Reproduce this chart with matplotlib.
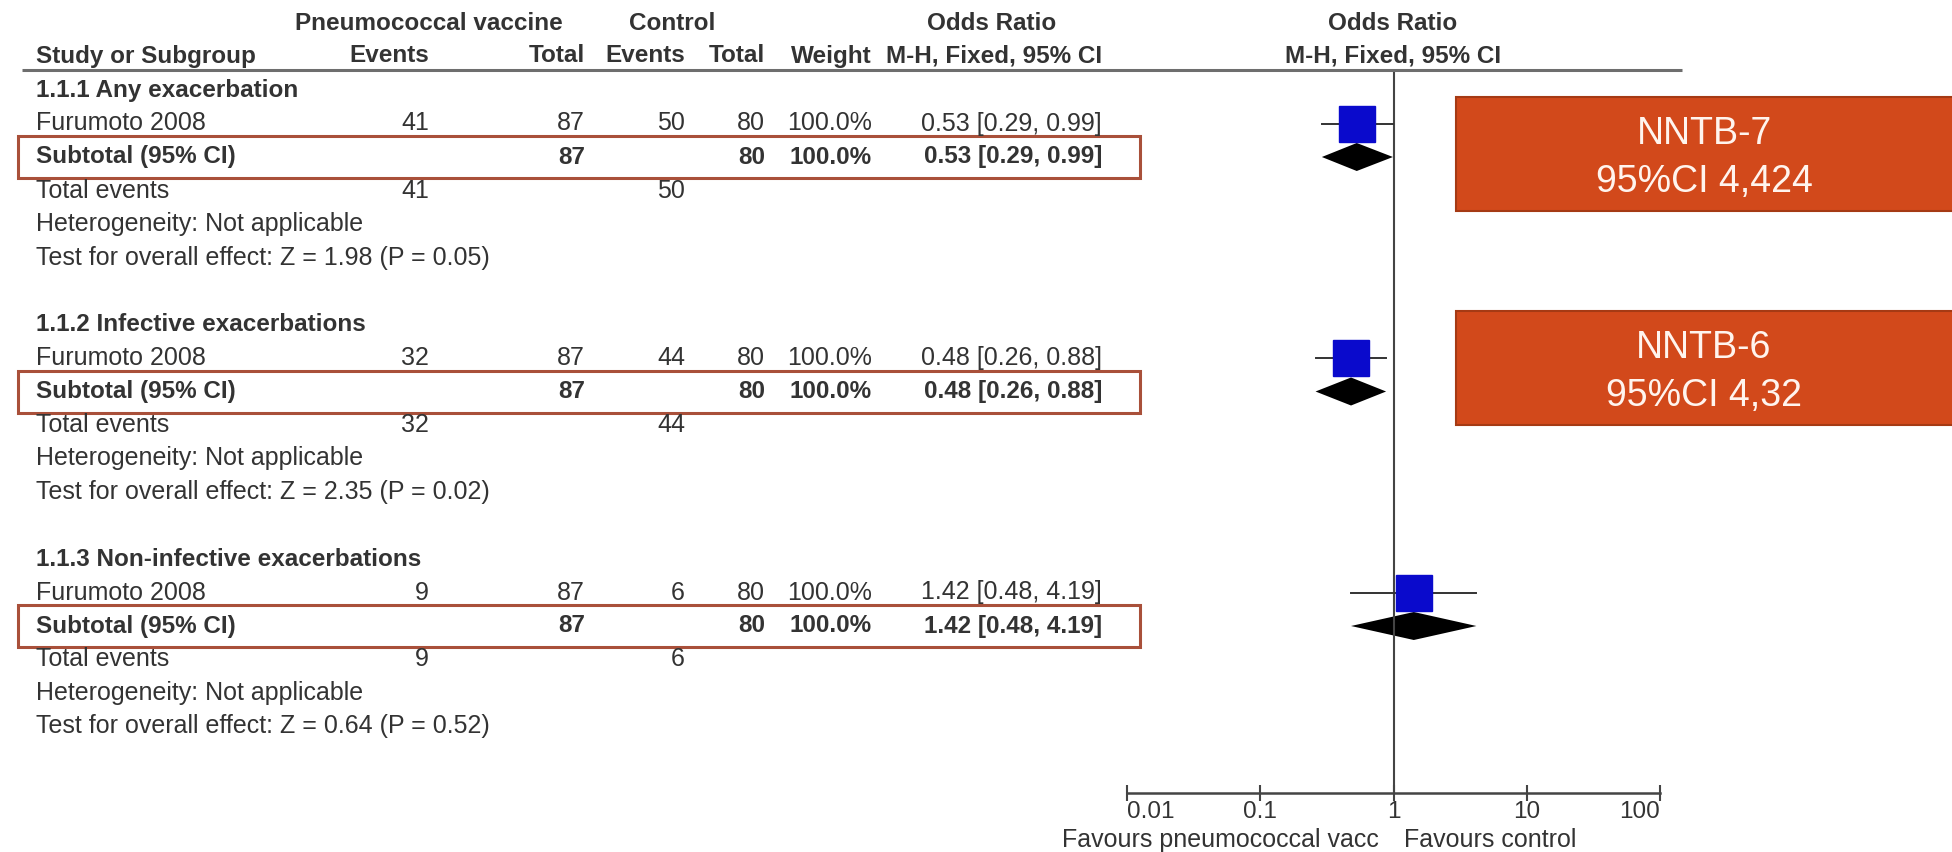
import matplotlib
matplotlib.use("Agg")
import matplotlib.pyplot as plt
from matplotlib.patches import Rectangle

plt.rcParams['font.family'] = ['Liberation Sans', 'DejaVu Sans']

# ---- data ----
subgroups = ['1.1.1 Any exacerbation', '1.1.2 Infective exacerbations',
             '1.1.3 Non-infective exacerbations']
study_name = 'Furumoto 2008'
vac_events = [41, 32, 9]
vac_total = [87, 87, 87]
ctl_events = [50, 44, 6]
ctl_total = [80, 80, 80]
weights = ['100.0%', '100.0%', '100.0%']
or_est = [0.53, 0.48, 1.42]
or_lo = [0.29, 0.26, 0.48]
or_hi = [0.99, 0.88, 4.19]
z_vals = [1.98, 2.35, 0.64]
p_vals = [0.05, 0.02, 0.52]
nntb_text = ['NNTB-7\n95%CI 4,424', 'NNTB-6\n95%CI 4,32']
tick_vals = [0.01, 0.1, 1, 10, 100]
tick_text = ['0.01', '0.1', '1', '10', '100']

# layout (pixels, origin top-left)
W, H = 1952, 852
ROW0, STEP = 90, 33.5
TXT = '#333333'
FS = 18      # regular text
FB = 17.5    # bold text
col_x = {'vev': 429, 'vtot': 585, 'cev': 685, 'ctot': 765, 'wt': 872, 'ci': 1102}

fig = plt.figure(figsize=(W / 100, H / 100), dpi=100)
ax = fig.add_axes([0, 0, 1, 1])
ax.set_xlim(0, W)
ax.set_ylim(H, 0)
ax.axis('off')
ax.set_zorder(2)
ax.patch.set_visible(False)

# forest axes: x=0.01 at px 1127, x=100 at px 1660, axis line at y=793
fx0, fx1, fy = 1127, 1660, 793
fax = fig.add_axes([fx0 / W, (H - fy) / H, (fx1 - fx0) / W, fy / H])
fax.set_zorder(1)
fax.patch.set_visible(False)
fax.set_xscale('log')
fax.set_xlim(0.01, 100)
fax.set_ylim(fy, 0)
for s in ['left', 'right', 'top']:
    fax.spines[s].set_visible(False)
fax.spines['bottom'].set_color('#444444')
fax.spines['bottom'].set_linewidth(1.8)
fax.set_yticks([])
fax.set_xticks(tick_vals)
fax.set_xticklabels(tick_text, fontsize=17.5, color=TXT)
fax.minorticks_off()
fax.tick_params(axis='x', direction='inout', length=11, width=1.5, color='#444444', pad=0)
labels = fax.get_xticklabels()
labels[0].set_ha('left')
labels[-1].set_ha('right')

# headers
ax.text(429, 23, 'Pneumococcal vaccine', ha='center', va='center', fontsize=FB, fontweight='bold', color=TXT)
ax.text(672, 23, 'Control', ha='center', va='center', fontsize=FB, fontweight='bold', color=TXT)
ax.text(992, 23, 'Odds Ratio', ha='center', va='center', fontsize=FB, fontweight='bold', color=TXT)
ax.text(1393, 23, 'Odds Ratio', ha='center', va='center', fontsize=FB, fontweight='bold', color=TXT)
hy = 56
ax.text(36, hy, 'Study or Subgroup', ha='left', va='center', fontsize=FB, fontweight='bold', color=TXT)
for key, lab in [('vev', 'Events'), ('vtot', 'Total'), ('cev', 'Events'),
                 ('ctot', 'Total'), ('wt', 'Weight'), ('ci', 'M-H, Fixed, 95% CI')]:
    ax.text(col_x[key], hy, lab, ha='right', va='center', fontsize=FB, fontweight='bold', color=TXT)
ax.text(1393, hy, 'M-H, Fixed, 95% CI', ha='center', va='center', fontsize=FB, fontweight='bold', color=TXT)
ax.plot([22, 1682], [70, 70], color='#6e6e6e', lw=2.2, solid_capstyle='butt')

# line of no effect
fax.vlines(1, 71, fy, color='#444444', lw=1.5)

for g in range(3):
    y = [ROW0 + STEP * (7 * g + k) for k in range(6)]
    ci_str = f'{or_est[g]:.2f} [{or_lo[g]:.2f}, {or_hi[g]:.2f}]'
    ax.text(36, y[0], subgroups[g], ha='left', va='center', fontsize=FB, fontweight='bold', color=TXT)
    # study row
    ax.text(36, y[1], study_name, ha='left', va='center', fontsize=FS, color=TXT)
    for key, v in [('vev', vac_events[g]), ('vtot', vac_total[g]), ('cev', ctl_events[g]),
                   ('ctot', ctl_total[g]), ('wt', weights[g]), ('ci', ci_str)]:
        ax.text(col_x[key], y[1], str(v), ha='right', va='center', fontsize=FS, color=TXT)
    # subtotal row
    ax.text(36, y[2], 'Subtotal (95% CI)', ha='left', va='center', fontsize=FB, fontweight='bold', color=TXT)
    for key, v in [('vtot', vac_total[g]), ('ctot', ctl_total[g]), ('wt', weights[g]), ('ci', ci_str)]:
        ax.text(col_x[key], y[2], str(v), ha='right', va='center', fontsize=FB, fontweight='bold', color=TXT)
    ax.text(36, y[3], 'Total events', ha='left', va='center', fontsize=FS, color=TXT)
    ax.text(col_x['vev'], y[3], str(vac_events[g]), ha='right', va='center', fontsize=FS, color=TXT)
    ax.text(col_x['cev'], y[3], str(ctl_events[g]), ha='right', va='center', fontsize=FS, color=TXT)
    ax.text(36, y[4], 'Heterogeneity: Not applicable', ha='left', va='center', fontsize=FS, color=TXT)
    ax.text(36, y[5], f'Test for overall effect: Z = {z_vals[g]:.2f} (P = {p_vals[g]:.2f})',
            ha='left', va='center', fontsize=FS, color=TXT)

    # highlight box around subtotal row
    ax.add_patch(Rectangle((18, y[2] - 21), 1122, 42, fill=False, edgecolor='#a9503a', lw=2.2))

    # forest marks
    fax.plot([or_lo[g], or_hi[g]], [y[1], y[1]], color='#333333', lw=1.4)
    fax.plot([or_est[g]], [y[1]], marker='s', ms=26.5, color='#0a0acc', mec='#0a0acc', ls='none')
    dy = 14
    fax.fill([or_lo[g], or_est[g], or_hi[g], or_est[g]],
             [y[2], y[2] - dy, y[2], y[2] + dy], color='black', lw=0)

# NNTB boxes
for i, txt in enumerate(nntb_text):
    top = [97, 311][i]
    ax.add_patch(Rectangle((1456, top), 500, 114, facecolor='#d2491b', edgecolor='#a53a14', lw=1.5))
    ax.text(1704, top + 61, txt, ha='center', va='center', fontsize=27, color='#fff4ee',
            linespacing=1.4)

ax.text(1379, 840, 'Favours pneumococcal vacc', ha='right', va='center', fontsize=FS, color=TXT)
ax.text(1404, 840, 'Favours control', ha='left', va='center', fontsize=FS, color=TXT)

fig.savefig('out.png', dpi=100, facecolor='white')
